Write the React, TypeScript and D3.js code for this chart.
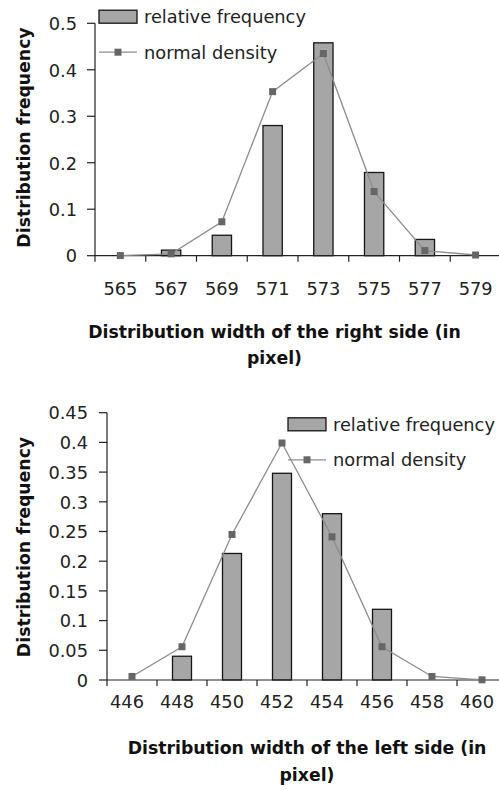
import React from "react";
import * as d3 from "d3";

const topCategories = ["565", "567", "569", "571", "573", "575", "577", "579"];
const topRelativeFrequency = [0, 0.012, 0.044, 0.28, 0.458, 0.179, 0.035, 0];
const topNormalDensity = [0.0003, 0.004, 0.073, 0.353, 0.435, 0.138, 0.011, 0.0015];
const topYTicks = [0, 0.1, 0.2, 0.3, 0.4, 0.5];

const bottomCategories = ["446", "448", "450", "452", "454", "456", "458", "460"];
const bottomRelativeFrequency = [0, 0.04, 0.213, 0.348, 0.28, 0.119, 0, 0];
const bottomNormalDensity = [0.006, 0.056, 0.245, 0.399, 0.241, 0.056, 0.006, 0.0003];
const bottomYTicks = [0, 0.05, 0.1, 0.15, 0.2, 0.25, 0.3, 0.35, 0.4, 0.45];

const seriesNames = ["relative frequency", "normal density"];

const BAR_FILL = "#a6a6a6";
const BAR_STROKE = "#151515";
const LINE_COLOR = "#8c8c8c";
const MARKER_COLOR = "#666666";
const AXIS_COLOR = "#222";
const TICK_FONT = "'DejaVu Sans', sans-serif";

type ChartProps = {
  categories: string[];
  freq: number[];
  density: number[];
  yTicks: number[];
  x0: number;
  x1: number;
  y0: number;
  y1: number;
  yMax: number;
  xLabelY: number;
  xLabelDx: number;
  yLabelX: number;
  yTitleY: number;
  xTitleX: number;
  xTitleY: number[];
  xTitle: string[];
  legendX: number;
  legendY: number;
};

function Chart(p: ChartProps) {
  const x = d3.scaleBand<string>().domain(p.categories).range([p.x0, p.x1]).padding(0);
  const y = d3.scaleLinear().domain([0, p.yMax]).range([p.y0, p.y1]);
  const bw = x.bandwidth();
  const barW = bw * 0.38;
  const line = d3
    .line<number>()
    .x((_, i) => (x(p.categories[i]) as number) + bw / 2)
    .y((d) => y(d));
  const ms = 7;
  const fmt = (v: number) => String(+v.toFixed(2));
  return (
    <g>
      {/* bars */}
      {p.freq.map((v, i) =>
        v > 0 ? (
          <rect
            key={"b" + i}
            x={(x(p.categories[i]) as number) + bw / 2 - barW / 2}
            y={y(v)}
            width={barW}
            height={y(0) - y(v)}
            fill={BAR_FILL}
            stroke={BAR_STROKE}
            strokeWidth={1.3}
          />
        ) : null
      )}
      {/* axes */}
      <line x1={p.x0} x2={p.x1 + 5} y1={p.y0} y2={p.y0} stroke={AXIS_COLOR} strokeWidth={1.2} />
      <line x1={p.x0} x2={p.x0} y1={p.y0 + 6} y2={y(p.yMax)} stroke={AXIS_COLOR} strokeWidth={1.2} />
      {p.categories.slice(1).map((c) => (
        <line
          key={"xt" + c}
          x1={x(c) as number}
          x2={x(c) as number}
          y1={p.y0}
          y2={p.y0 + 6}
          stroke={AXIS_COLOR}
          strokeWidth={1.2}
        />
      ))}
      {p.yTicks.map((t) => (
        <g key={"yt" + t}>
          <line x1={p.x0 - 8} x2={p.x0} y1={y(t)} y2={y(t)} stroke={AXIS_COLOR} strokeWidth={1.2} />
          <text
            x={p.yLabelX}
            y={y(t)}
            dy="0.38em"
            textAnchor="end"
            fontFamily={TICK_FONT}
            fontSize={17.8}
            fill="#222"
          >
            {fmt(t)}
          </text>
        </g>
      ))}
      {p.categories.map((c) => (
        <text
          key={"xl" + c}
          x={(x(c) as number) + bw / 2 + p.xLabelDx}
          y={p.xLabelY}
          textAnchor="middle"
          fontFamily={TICK_FONT}
          fontSize={17.8}
          fill="#222"
        >
          {c}
        </text>
      ))}
      {/* density line */}
      <path d={line(p.density) || ""} fill="none" stroke={LINE_COLOR} strokeWidth={1.3} />
      {p.density.map((v, i) => (
        <rect
          key={"m" + i}
          x={(x(p.categories[i]) as number) + bw / 2 - ms / 2}
          y={y(v) - ms / 2}
          width={ms}
          height={ms}
          fill={MARKER_COLOR}
        />
      ))}
      {/* axis titles */}
      <text
        transform={`translate(30,${p.yTitleY}) rotate(-90)`}
        textAnchor="middle"
        fontFamily={TICK_FONT}
        fontWeight="bold"
        fontSize={17.3}
        fill="#111"
      >
        Distribution frequency
      </text>
      {p.xTitle.map((s, i) => (
        <text
          key={"xtt" + i}
          x={p.xTitleX}
          y={p.xTitleY[i]}
          textAnchor="middle"
          fontFamily={TICK_FONT}
          fontWeight="bold"
          fontSize={17.3}
          fill="#111"
        >
          {s}
        </text>
      ))}
      {/* legend */}
      <g transform={`translate(${p.legendX},${p.legendY})`}>
        <rect x={0} y={-6.5} width={38} height={13} fill={BAR_FILL} stroke={BAR_STROKE} strokeWidth={1.3} />
        <text x={45} y={0} dy="0.36em" fontFamily={TICK_FONT} fontSize={17.8} fill="#222">
          {seriesNames[0]}
        </text>
        <line x1={0} x2={38} y1={35.5} y2={35.5} stroke={LINE_COLOR} strokeWidth={1.3} />
        <rect x={19 - ms / 2} y={35.5 - ms / 2} width={ms} height={ms} fill={MARKER_COLOR} />
        <text x={45} y={35.5} dy="0.36em" fontFamily={TICK_FONT} fontSize={17.8} fill="#222">
          {seriesNames[1]}
        </text>
      </g>
    </g>
  );
}

export default function App() {
  return (
    <svg
      width={499}
      height={790}
      style={{ position: "absolute", left: 0, top: 0, display: "block", background: "#fff" }}
    >
      <rect width={499} height={790} fill="#fff" />
      <Chart
        categories={topCategories}
        freq={topRelativeFrequency}
        density={topNormalDensity}
        yTicks={topYTicks}
        x0={95}
        x1={501}
        y0={255.7}
        y1={23.3}
        yMax={0.5}
        xLabelY={295}
        xLabelDx={0}
        yLabelX={77}
        yTitleY={137.5}
        xTitleX={274.5}
        xTitleY={[338, 364]}
        xTitle={["Distribution width of the right side (in", "pixel)"]}
        legendX={99}
        legendY={16.7}
      />
      <Chart
        categories={bottomCategories}
        freq={bottomRelativeFrequency}
        density={bottomNormalDensity}
        yTicks={bottomYTicks}
        x0={107}
        x1={507}
        y0={680}
        y1={412.7}
        yMax={0.45}
        xLabelY={708}
        xLabelDx={-5}
        yLabelX={88}
        yTitleY={547}
        xTitleX={307}
        xTitleY={[754, 781]}
        xTitle={["Distribution width of the left side (in", "pixel)"]}
        legendX={288}
        legendY={424.3}
      />
    </svg>
  );
}
